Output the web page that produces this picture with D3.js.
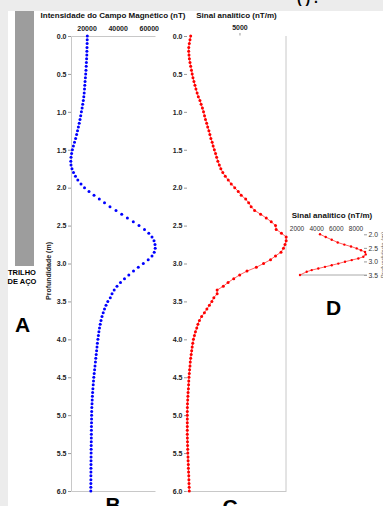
<!DOCTYPE html>
<html lang="pt">
<head>
<meta charset="UTF-8">
<title>Perfil magnético - trilho de aço</title>
<script src="https://d3js.org/d3.v7.min.js"></script>
<style>
    body { margin: 0; background: #fff; }
    svg { display: block; font-family: "Liberation Sans", Arial, sans-serif; }
    .axis text { font-size: 7px; font-weight: bold; fill: #222 !important; }
    .axis .domain { stroke: #c8c8c8; }
    .axis line { stroke: #999; }
    .title { font-size: 8px; font-weight: bold; fill: #111; }
    .big { font-size: 21px; font-weight: bold; fill: #000; }
</style>
</head>
<body>
<svg width="383" height="506"></svg>
<script>
    // profundidade (m) das amostras, passo de 0.05 m
    const depthStep = 0.05;
    const depthTicks = [0, 0.5, 1, 1.5, 2, 2.5, 3, 3.5, 4, 4.5, 5, 5.5, 6];

    // B - intensidade do campo magnético (nT)
    const fieldValues = [
        20480, 20410, 20350, 20290, 20220, 20160, 20030, 19900, 19770, 19640,
        19450, 19260, 19060, 18870, 18680, 18490, 18230, 17910, 17520, 17140,
        16690, 16240, 15790, 15270, 14760, 14180, 13600, 12960, 12250, 11540,
        10900, 10390, 10000, 9870, 10000, 10640, 11610, 12890, 14370, 16430,
        18680, 21570, 24790, 28190, 31540, 35070, 38930, 42590, 46260, 50050,
        53710, 57250, 60010, 62070, 63360, 64000, 64130, 63490, 62070, 59630,
        56480, 53260, 50180, 47160, 44390, 41820, 39570, 37770, 36360, 35260,
        33660, 32500, 31540, 30700, 29930, 29290, 28770, 28320, 27940, 27610,
        27290, 26970, 26710, 26460, 26200, 25940, 25690, 25430, 25170, 24910,
        24660, 24460, 24270, 24080, 23890, 23760, 23630, 23500, 23370, 23310,
        23240, 23210, 23180, 23150, 23110, 23080, 23050, 23020, 22990, 22950,
        22920, 22890, 22860, 22840, 22830, 22810, 22790, 22780, 22760, 22750,
        22730
    ];
    const fieldTicks = [20000, 40000, 60000];

    // C - sinal analítico (nT/m)
    const signalValues = [
        437, 372, 307, 260, 251, 279, 316, 372, 437, 512,
        577, 651, 744, 837, 930, 1042, 1153, 1302, 1414, 1535,
        1637, 1730, 1823, 1934, 2027, 2139, 2232, 2325, 2446, 2539,
        2650, 2762, 2864, 2976, 3116, 3255, 3441, 3674, 3953, 4232,
        4557, 4883, 5162, 5580, 5859, 6092, 6417, 6975, 7505, 7970,
        8370, 8435, 8928, 9365, 9365, 9254, 9114, 8882, 8370, 7905,
        7254, 6575, 5701, 5022, 4464, 3934, 3488, 2911, 2911, 2604,
        2418, 2186, 1953, 1721, 1460, 1256, 1116, 1004, 884, 791,
        698, 632, 577, 530, 484, 437, 400, 372, 335, 307,
        279, 260, 242, 223, 195, 177, 158, 140, 130, 121,
        121, 121, 121, 121, 121, 121, 130, 140, 149, 158,
        167, 186, 195, 214, 223, 242, 260, 270, 279, 298,
        307
    ];
    const signalTicks = [5000];

    // D - detalhe do sinal analítico entre 2.0 e 3.5 m
    const detailDepths = [2.0, 2.1, 2.2, 2.3, 2.38, 2.45, 2.52, 2.59, 2.65, 2.74, 2.83,
        2.89, 2.95, 3.01, 3.08, 3.14, 3.2, 3.26, 3.32, 3.38, 3.5];
    const detailValues = [4340, 4920, 5530, 6140, 6812, 7493, 8073, 8511, 8918, 8989, 8745,
        8236, 7565, 6883, 6201, 5530, 4848, 4167, 3495, 2987, 2305];
    const detailXTicks = [2000, 4000, 6000, 8000];
    const detailYTicks = [2.0, 2.5, 3.0, 3.5];

    const svg = d3.select("svg");
    const fmt1 = d3.format(".1f");

    // fundo cinza em cima e à esquerda
    svg.append("rect").attr("width", 383).attr("height", 11).attr("fill", "#ececec");
    svg.append("rect").attr("width", 8).attr("height", 506).attr("fill", "#ececec");
    svg.append("text").attr("x", 297).attr("y", 3).attr("font-size", 14)
        .attr("font-weight", "bold").text("(    ) .");

    // A - trilho de aço
    svg.append("rect").attr("x", 15).attr("y", 11).attr("width", 19).attr("height", 255)
        .attr("fill", "#9d9d9d");
    svg.append("text").attr("x", 22).attr("y", 275).attr("text-anchor", "middle")
        .attr("font-size", 7.5).attr("font-weight", "bold").text("TRILHO");
    svg.append("text").attr("x", 22).attr("y", 283.5).attr("text-anchor", "middle")
        .attr("font-size", 7.5).attr("font-weight", "bold").text("DE AÇO");
    svg.append("text").attr("class", "big").attr("x", 22.5).attr("y", 332)
        .attr("text-anchor", "middle").text("A");

    const y = d3.scaleLinear().domain([0, 6]).range([36, 491]);
    const depths = fieldValues.map((_, i) => i * depthStep);

    // ---- B ----
    const xB = d3.scaleLinear().domain([10000, 64000]).range([71, 155]);

    svg.append("g").attr("class", "axis").attr("transform", "translate(71,0)")
        .call(d3.axisLeft(y).tickValues(depthTicks).tickFormat(fmt1).tickSize(3).tickPadding(1.5).tickSizeOuter(0));
    svg.append("g").attr("class", "axis").attr("transform", "translate(0,36)")
        .call(d3.axisTop(xB).tickValues(fieldTicks).tickSize(0).tickPadding(5.5).tickFormat(d3.format("d")));
    svg.append("g").attr("class", "axis").attr("transform", "translate(0,491)")
        .call(d3.axisBottom(xB).tickValues([]).tickSizeOuter(0));

    svg.append("text").attr("class", "title").attr("x", 113).attr("y", 17.5)
        .attr("text-anchor", "middle").text("Intensidade do Campo Magnético (nT)");
    svg.append("text").attr("transform", "translate(51,271) rotate(-90)")
        .attr("text-anchor", "middle").attr("font-size", 7).attr("font-weight", "bold")
        .attr("fill", "#222").text("Profundidade (m)");

    svg.append("g").selectAll("circle")
        .data(fieldValues)
        .enter().append("circle")
        .attr("cx", d => xB(d))
        .attr("cy", (d, i) => y(depths[i]))
        .attr("r", 1.5)
        .attr("fill", "#0000ff");

    svg.append("text").attr("class", "big").attr("x", 113).attr("y", 512)
        .attr("text-anchor", "middle").text("B");

    // ---- C ----
    const xC = d3.scaleLinear().domain([0, 9350]).range([186, 286]);

    const axC = svg.append("g").attr("class", "axis").attr("transform", "translate(187,0)")
        .call(d3.axisLeft(y).tickValues(depthTicks).tickFormat(fmt1).tickSize(3).tickPadding(1.5));
    axC.select(".domain").remove();
    const axCTop = svg.append("g").attr("class", "axis").attr("transform", "translate(0,35.5)")
        .call(d3.axisTop(xC).tickValues(signalTicks).tickSize(2.5).tickPadding(3).tickFormat(d3.format("d")));
    axCTop.select(".domain").remove();
    svg.append("g").attr("class", "axis").attr("transform", "translate(0,491)")
        .call(d3.axisBottom(xC).tickValues([]).tickSizeOuter(0));
    svg.append("line").attr("x1", xC.range()[1]).attr("x2", xC.range()[1])
        .attr("y1", y(0)).attr("y2", y(6)).attr("stroke", "#c8c8c8");

    svg.append("text").attr("class", "title").attr("x", 236.5).attr("y", 17.5)
        .attr("text-anchor", "middle").text("Sinal analítico (nT/m)");

    const lineC = d3.line().x(d => xC(d)).y((d, i) => y(depths[i]));
    svg.append("path").datum(signalValues).attr("d", lineC)
        .attr("fill", "none").attr("stroke", "#ff2020").attr("stroke-width", 0.7);
    svg.append("g").selectAll("circle")
        .data(signalValues)
        .enter().append("circle")
        .attr("cx", d => xC(d))
        .attr("cy", (d, i) => y(depths[i]))
        .attr("r", 1.5)
        .attr("fill", "#ff0000");

    svg.append("text").attr("class", "big").attr("x", 230).attr("y", 514)
        .attr("text-anchor", "middle").text("C");

    // ---- D ----
    const xD = d3.scaleLinear().domain([2000, 8000]).range([297, 356]);
    const yD = d3.scaleLinear().domain([2, 3.5]).range([234.3, 275]);

    svg.append("text").attr("class", "title").attr("x", 332).attr("y", 218)
        .attr("text-anchor", "middle").text("Sinal analítico (nT/m)");
    svg.append("g").selectAll("text")
        .data(detailXTicks)
        .enter().append("text")
        .attr("x", d => xD(d))
        .attr("y", 230.5)
        .attr("text-anchor", "middle")
        .attr("font-size", 6.5)
        .style("fill", "#333")
        .text(d => d);

    const axD = svg.append("g").attr("transform", "translate(367,0)")
        .call(d3.axisRight(yD).tickValues(detailYTicks).tickFormat(fmt1).tickSize(0).tickPadding(1.5));
    axD.select(".domain").remove();
    axD.selectAll("text").attr("font-size", 6.8).style("fill", "#333");
    axD.selectAll(".tick").append("line").attr("x1", -3).attr("x2", 0).attr("stroke", "#999");
    svg.append("line").attr("x1", xD(detailValues[detailValues.length - 1])).attr("x2", 367)
        .attr("y1", yD(3.5)).attr("y2", yD(3.5)).attr("stroke", "#aaa");
    svg.append("text").attr("transform", "translate(385,255) rotate(-90)")
        .attr("text-anchor", "middle").attr("font-size", 6).attr("fill", "#555")
        .text("Profundidade (m)");

    const lineD = d3.line().x(d => xD(d)).y((d, i) => yD(detailDepths[i]));
    svg.append("path").datum(detailValues).attr("d", lineD)
        .attr("fill", "none").attr("stroke", "#ff2020").attr("stroke-width", 0.7);
    svg.append("g").selectAll("circle")
        .data(detailValues)
        .enter().append("circle")
        .attr("cx", d => xD(d))
        .attr("cy", (d, i) => yD(detailDepths[i]))
        .attr("r", 1.2)
        .attr("fill", "#ff0000");

    svg.append("text").attr("class", "big").attr("x", 333.5).attr("y", 315)
        .attr("text-anchor", "middle").text("D");
</script>
</body>
</html>
